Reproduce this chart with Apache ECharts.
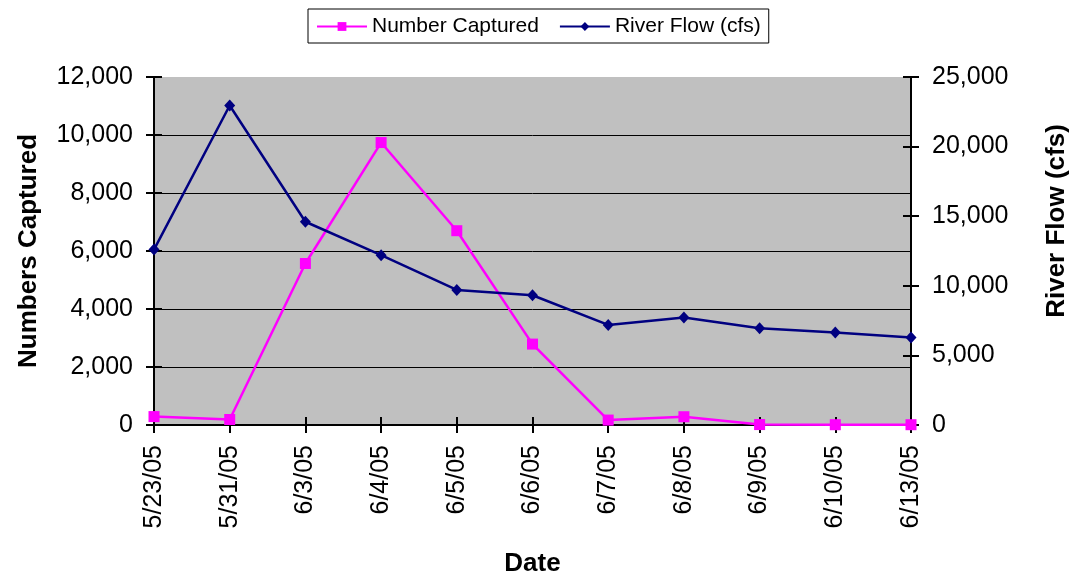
<!DOCTYPE html>
<html>
<head>
<meta charset="utf-8">
<script src="https://cdn.jsdelivr.net/npm/echarts@6/dist/echarts.min.js"></script>
<style>
  html, body { margin: 0; padding: 0; background: #fff; }
  #chart { width: 1078px; height: 582px; }
</style>
</head>
<body>
<div id="chart"></div>
<script>
// Sampling dates
const dates = ['5/23/05', '5/31/05', '6/3/05', '6/4/05', '6/5/05', '6/6/05',
               '6/7/05', '6/8/05', '6/9/05', '6/10/05', '6/13/05'];
// Fish captured per sampling date (left axis)
const numberCaptured = [290, 190, 5570, 9740, 6700, 2790, 170, 285, 15, 10, 10];
// River discharge in cubic feet per second (right axis)
const riverFlow = [12600, 22950, 14600, 12200, 9700, 9320, 7190, 7720, 6950, 6650, 6290];
// Axis ranges
const leftTicks = { min: 0, max: 12000, interval: 2000 };
const rightTicks = { min: 0, max: 25000, interval: 5000 };

const FONT = "'Liberation Sans', Arial, sans-serif";
const fmt = v => Number(v).toLocaleString('en-US');

const chart = echarts.init(document.getElementById('chart'), null, { renderer: 'canvas' });

// Excel-style "cross" tick marks: one axis draws outside ticks, a twin draws inside ticks
const tickOnly = (extra) => Object.assign({
  axisLine: { show: false },
  axisLabel: { show: false },
  splitLine: { show: false },
  axisTick: { show: true, inside: true, length: 8, lineStyle: { color: '#000', width: 2 } }
}, extra);

const nameStyle = { fontFamily: FONT, fontSize: 26, fontWeight: 'bold', color: '#000' };

chart.setOption({
  backgroundColor: '#ffffff',
  animation: false,
  textStyle: { fontFamily: FONT, color: '#000' },
  legend: {
    left: 308,
    top: 9,
    padding: [7, 8, 6, 8],
    borderColor: '#000',
    borderWidth: 1,
    itemWidth: 50,
    itemHeight: 11,
    itemGap: 20,
    textStyle: { fontFamily: FONT, fontSize: 21, color: '#000' },
    data: ['Number Captured', 'River Flow (cfs)']
  },
  grid: {
    left: 154,
    right: 167,
    top: 77,
    bottom: 156,
    show: true,
    backgroundColor: '#C0C0C0',
    borderWidth: 0
  },
  xAxis: [
    {
      type: 'category',
      data: dates,
      boundaryGap: false,
      name: 'Date',
      nameLocation: 'middle',
      nameGap: 126,
      nameTextStyle: nameStyle,
      axisLine: { lineStyle: { color: '#000', width: 2 } },
      axisTick: { show: true, alignWithLabel: true, length: 8, lineStyle: { color: '#000', width: 2 } },
      axisLabel: { rotate: 90, fontSize: 25, color: '#000', margin: 20, interval: 0 },
      splitLine: { show: false }
    },
    tickOnly({ type: 'category', data: dates, boundaryGap: false, position: 'bottom' })
  ],
  yAxis: [
    {
      type: 'value',
      position: 'left',
      min: leftTicks.min, max: leftTicks.max, interval: leftTicks.interval,
      name: 'Numbers Captured',
      nameLocation: 'middle',
      nameRotate: 90,
      nameGap: 112,
      nameTextStyle: nameStyle,
      axisLine: { show: true, lineStyle: { color: '#000', width: 2 } },
      axisTick: { show: true, length: 8, lineStyle: { color: '#000', width: 2 } },
      axisLabel: { formatter: fmt, fontSize: 25, color: '#000', margin: 21 },
      splitLine: { show: true, showMaxLine: false, lineStyle: { color: '#000', width: 1 } }
    },
    {
      type: 'value',
      position: 'right',
      min: rightTicks.min, max: rightTicks.max, interval: rightTicks.interval,
      name: 'River Flow (cfs)',
      nameLocation: 'middle',
      nameRotate: 90,
      nameGap: 133,
      nameTextStyle: Object.assign({}, nameStyle, { padding: [0, 0, 0, 60] }),
      axisLine: { show: true, lineStyle: { color: '#000', width: 2 } },
      axisTick: { show: true, length: 8, lineStyle: { color: '#000', width: 2 } },
      axisLabel: { formatter: fmt, fontSize: 25, color: '#000', margin: 21 },
      splitLine: { show: false }
    },
    tickOnly({ type: 'value', position: 'left', min: leftTicks.min, max: leftTicks.max, interval: leftTicks.interval }),
    tickOnly({ type: 'value', position: 'right', min: rightTicks.min, max: rightTicks.max, interval: rightTicks.interval })
  ],
  series: [
    {
      name: 'Number Captured',
      type: 'line',
      xAxisIndex: 0,
      yAxisIndex: 0,
      data: numberCaptured,
      symbol: 'rect',
      symbolSize: 11,
      itemStyle: { color: '#FF00FF' },
      lineStyle: { color: '#FF00FF', width: 2.5 },
      z: 3
    },
    {
      name: 'River Flow (cfs)',
      type: 'line',
      xAxisIndex: 0,
      yAxisIndex: 1,
      data: riverFlow,
      symbol: 'diamond',
      symbolSize: [11, 12],
      itemStyle: { color: '#000080' },
      lineStyle: { color: '#000080', width: 2.5 },
      z: 4
    }
  ]
});
</script>
</body>
</html>
